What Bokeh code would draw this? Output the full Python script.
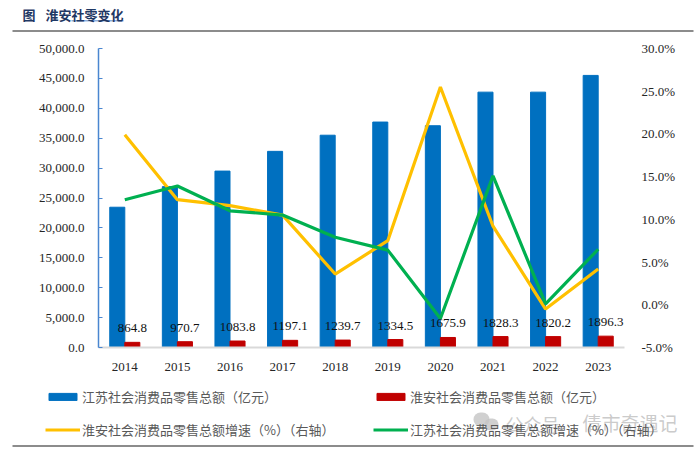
from bokeh.plotting import figure
from bokeh.layouts import column
from bokeh.models import (ColumnDataSource, Range1d, LinearAxis, FactorRange, Legend, LegendItem,
                          NumeralTickFormatter, FixedTicker, Label, BoxAnnotation, CustomJSTickFormatter)
from bokeh.transform import dodge
from bokeh.core.properties import value
from bokeh.embed import file_html
from bokeh.resources import INLINE

title_lead = "图"
title_text = "淮安社零变化"
years = ["2014","2015","2016","2017","2018","2019","2020","2021","2022","2023"]
js_total = [23458, 26900, 29500, 32800, 35500, 37700, 37086, 42700, 42700, 45500]
ha_total = [864.8, 970.7, 1083.8, 1197.1, 1239.7, 1334.5, 1675.9, 1828.3, 1820.2, 1896.3]
ha_growth = [19.9, 12.3, 11.6, 10.5, 3.6, 7.5, 25.5, 9.2, -0.5, 4.2]
js_growth = [12.3, 13.9, 11.0, 10.5, 7.9, 6.4, -1.6, 15.1, 0.1, 6.5]
ha_labels = ["864.8","970.7","1083.8","1197.1","1239.7","1334.5","1675.9","1828.3","1820.2","1896.3"]
names = ["江苏社会消费品零售总额（亿元）","淮安社会消费品零售总额（亿元）",
         "淮安社会消费品零售总额增速（%）（右轴）","江苏社会消费品零售总额增速（%）（右轴）"]
BLUE, RED, YEL, GRN = "#0070C0", "#C00000", "#FFC000", "#00B050"
TXT = "#262626"

def strip(h, y0, y1):
    f = figure(width=700, height=h, output_backend="svg", toolbar_location=None,
               x_range=Range1d(0, 700), y_range=Range1d(y1, y0), x_axis_type=None, y_axis_type=None,
               min_border=0, outline_line_color=None, frame_align=False)
    f.xgrid.visible = False
    f.ygrid.visible = False
    return f

def rule(f, l, r, t, b, color, alpha=1, radius=0):
    f.add_layout(BoxAnnotation(left=l, right=r, top=t, bottom=b, fill_color=color, fill_alpha=alpha,
                               line_color=None, border_radius=radius))

# header strip (page y 0-32)
head = strip(32, 0, 32)
rule(head, 12, 693, 29.5, 31.5, "#8C8C8C")
rule(head, 71, 123, 19.5, 21, "#8FB0E0")
head.add_layout(Label(x=22, y=14, text=title_lead, text_font="Noto Sans CJK SC", text_font_size="13px",
                      text_font_style="bold", text_color="#1F3864", text_baseline="middle"))
head.add_layout(Label(x=45, y=14, text=title_text, text_font="Noto Sans CJK SC", text_font_size="13px",
                      text_font_style="bold", text_color="#1F3864", text_baseline="middle"))

# main chart (page y 32-385)
src = ColumnDataSource(dict(year=years, js=js_total, ha=ha_total, hg=ha_growth, jg=js_growth, lab=ha_labels))
p = figure(width=700, height=353, output_backend="svg", toolbar_location=None,
           x_range=FactorRange(factors=years, range_padding=0), y_range=Range1d(0, 50000),
           min_border_left=98, min_border_right=76, min_border_top=16, min_border_bottom=38,
           outline_line_color=None, frame_align=False)
p.xgrid.visible = False
p.ygrid.visible = False
p.extra_y_ranges = {"r": Range1d(-5, 30)}

p.vbar(x=dodge("year", -0.143, range=p.x_range), top="js", width=0.286, source=src, color=BLUE)
p.vbar(x=dodge("year", 0.143, range=p.x_range), top="ha", width=0.286, source=src, color=RED)
p.line("year", "hg", source=src, y_range_name="r", line_color=YEL, line_width=3.2)
p.line("year", "jg", source=src, y_range_name="r", line_color=GRN, line_width=3.2)
p.text(x=dodge("year", 0.143, range=p.x_range), y="ha", text="lab", source=src, text_align="center",
       text_baseline="middle", y_offset=-14, text_font=value("Liberation Serif"), text_font_size="13px",
       text_color="#111111")

ax = p.yaxis[0]
ax.ticker = FixedTicker(ticks=list(range(0, 50001, 5000)))
ax.formatter = NumeralTickFormatter(format="0,0.0")
ax.axis_line_color = "#4A86D0"
ax.axis_line_width = 1.5
ax.major_tick_line_color = "#4A86D0"
ax.major_tick_in = 4
ax.major_tick_out = 0
ax.minor_tick_line_color = None
ax.major_label_text_font = "Liberation Serif"
ax.major_label_text_font_size = "13px"
ax.major_label_text_color = TXT
ax.major_label_standoff = 14

rax = LinearAxis(y_range_name="r", ticker=FixedTicker(ticks=list(range(-5, 31, 5))),
                 formatter=CustomJSTickFormatter(code="return tick.toFixed(1) + '%';"))
rax.axis_line_color = None
rax.major_tick_line_color = None
rax.minor_tick_line_color = None
rax.major_label_text_font = "Liberation Serif"
rax.major_label_text_font_size = "13px"
rax.major_label_text_color = TXT
rax.major_label_standoff = 11
p.add_layout(rax, "right")

xa = p.xaxis[0]
xa.axis_line_color = "#D9D9D9"
xa.axis_line_width = 2
xa.major_tick_line_color = None
xa.minor_tick_line_color = None
xa.major_label_text_font = "Liberation Serif"
xa.major_label_text_font_size = "13px"
xa.major_label_text_color = TXT
xa.major_label_standoff = 9

# legend strip (page y 385-450); its keys carry the chart's data, which lies off this strip's range
foot = strip(65, 385, 450)
k1 = foot.vbar(x="js", top="js", width=1, color=BLUE, source=src)
k2 = foot.vbar(x="js", top="ha", width=1, color=RED, source=src)
k3 = foot.line(x="js", y="hg", line_color=YEL, line_width=3.2, source=src)
k4 = foot.line(x="js", y="jg", line_color=GRN, line_width=3.2, source=src)
leg = Legend(items=[LegendItem(label=names[0], renderers=[k1]), LegendItem(label=names[2], renderers=[k3]),
                    LegendItem(label=names[1], renderers=[k2]), LegendItem(label=names[3], renderers=[k4])],
             ncols=2, location=(45, 11), border_line_color=None, background_fill_alpha=0,
             glyph_width=35, glyph_height=9, label_width=277, label_height=18, label_text_font="Noto Sans CJK SC",
             label_text_font_size="13px", label_text_color="#595959", spacing=14, label_standoff=2,
             padding=0, margin=0)
foot.add_layout(leg, "center")
rule(foot, 12, 693, 444.5, 446.5, "#8C8C8C")
rule(foot, 473, 489, 412, 426, "#C4C4C4", 0.8, 8)
rule(foot, 484, 498, 418, 430, "#C4C4C4", 0.8, 7)
foot.add_layout(Label(x=505, y=423, text="公众号", text_font="Noto Sans CJK SC", text_font_size="18px",
                      text_color="#BDBDBD", text_alpha=0.8, text_baseline="middle"))
foot.add_layout(Label(x=582, y=422, text="倩市奇遇记", text_font="Noto Sans CJK SC", text_font_size="19px",
                      text_color="#BDBDBD", text_alpha=0.8, text_baseline="middle"))

page = column(head, p, foot, spacing=0)
open("out.html", "w").write(file_html(page, INLINE))
